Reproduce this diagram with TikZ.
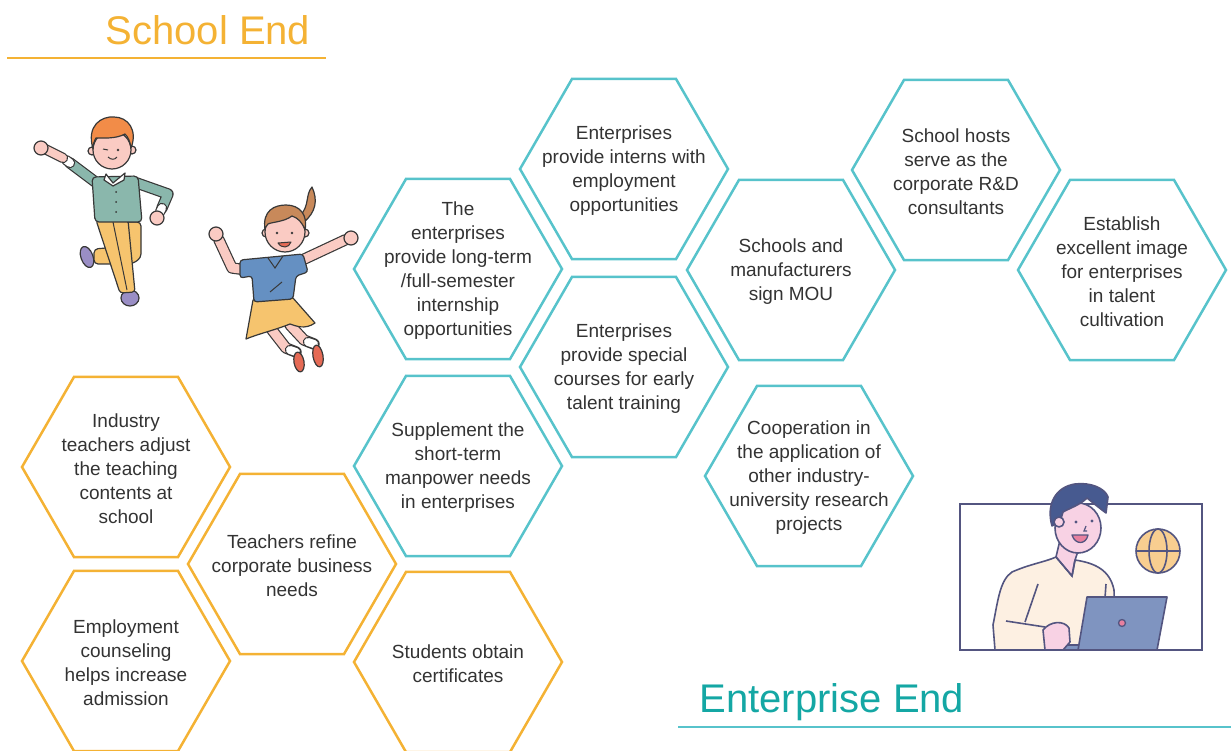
\documentclass[tikz,border=0pt]{standalone}
\usepackage{fontspec}
\setmainfont{Liberation Sans}
\usetikzlibrary{shapes.geometric}

\definecolor{orangeA}{HTML}{F4B234}
\definecolor{tealA}{HTML}{57C3CB}
\definecolor{titleteal}{HTML}{14A7A4}
\definecolor{txt}{HTML}{333333}
\definecolor{ink}{HTML}{383838}
\definecolor{skin}{HTML}{FACBC3}
\definecolor{boyshirt}{HTML}{8AB7AC}
\definecolor{pants}{HTML}{F6C46E}
\definecolor{boyshoe}{HTML}{9A8EC5}
\definecolor{boyhair}{HTML}{F28C48}
\definecolor{girlshirt}{HTML}{6590C2}
\definecolor{girlhair}{HTML}{C8895A}
\definecolor{girlshoe}{HTML}{E56A55}
\definecolor{maninkc}{HTML}{535580}
\definecolor{manhair}{HTML}{475A90}
\definecolor{manface}{HTML}{F8D2E4}
\definecolor{cream}{HTML}{FDF0E2}
\definecolor{laptop}{HTML}{7F94C0}
\definecolor{globe}{HTML}{F8CE90}
\definecolor{dot}{HTML}{E8809F}

\tikzset{
  hexbase/.style={regular polygon, regular polygon sides=6, minimum size=208pt,
    inner sep=0pt, line width=2.5pt, draw=#1},
  schoolhex/.style={hexbase=orangeA},
  enthex/.style={hexbase=tealA},
  hextext/.style={align=center, font=\fontsize{19}{24}\selectfont, text=txt, inner sep=0pt, yshift=-2pt},
  title/.style={anchor=base, font=\fontsize{40}{44}\selectfont},
  tube/.style 2 args={draw=#2, line width=1.2pt, double=#1, double distance=9pt,
    line cap=round, line join=round},
  part/.style={draw=ink, line width=1.2pt, line join=round, fill=#1},
  mpart/.style={draw=maninkc, line width=1.6pt, line join=round, fill=#1},
}

\begin{document}
\begin{tikzpicture}[x=1pt,y=-1pt]
\useasboundingbox (0,0) rectangle (1231,751);

% ---------- headings ----------
\node[title, text=orangeA] (schooltitle) at (208,45) {School End};
\draw[orangeA, line width=2.5pt] (7,58) -- (326,58);
\node[title, text=titleteal] (enttitle) at (832,712) {Enterprise End};
\draw[tealA, line width=2.5pt] (678,727) -- (1231,727);

% ---------- school-side hexagons ----------
\node[schoolhex, label={[hextext]center:{Industry\\teachers adjust\\the teaching\\contents at\\school}}] (s1) at (126,467) {};
\node[schoolhex, label={[hextext]center:{Teachers refine\\corporate business\\needs}}] (s2) at (292,564) {};
\node[schoolhex, label={[hextext]center:{Employment\\counseling\\helps increase\\admission}}] (s3) at (126,661) {};
\node[schoolhex, label={[hextext]center:{Students obtain\\certificates}}] (s4) at (458,662) {};

% ---------- enterprise-side hexagons ----------
\node[enthex, label={[hextext]center:{The\\enterprises\\provide long-term\\/full-semester\\internship\\opportunities}}] (e1) at (458,269) {};
\node[enthex, label={[hextext]center:{Supplement the\\short-term\\manpower needs\\in enterprises}}] (e2) at (458,466) {};
\node[enthex, label={[hextext]center:{Enterprises\\provide interns with\\employment\\opportunities}}] (e3) at (624,169) {};
\node[enthex, label={[hextext]center:{Enterprises\\provide special\\courses for early\\talent training}}] (e4) at (624,367) {};
\node[enthex, label={[hextext]center:{Schools and\\manufacturers\\sign MOU}}] (e5) at (791,270) {};
\node[enthex, label={[hextext]center:{Cooperation in\\the application of\\other industry-\\university research\\projects}}] (e6) at (809,476) {};
\node[enthex, label={[hextext]center:{School hosts\\serve as the\\corporate R\&D\\consultants}}] (e7) at (956,170) {};
\node[enthex, label={[hextext]center:{Establish\\excellent image\\for enterprises\\in talent\\cultivation}}] (e8) at (1122,270) {};

% ---------- jumping boy ----------
% back leg and shoe
\draw[part=boyshoe, rotate around={20:(87,257)}] (87,257) ellipse (6 and 11);
\draw[part=pants, rounded corners=4pt] (112,222) -- (141,222) -- (141,258) -- (132,264) -- (94,264) -- (94,249) -- (118,247) -- cycle;
% front leg and shoe
\draw[part=boyshoe] (130,298) ellipse (9 and 8);
\draw[part=pants, rounded corners=3pt] (96,220) -- (128,220) -- (135,292) -- (120,293) -- cycle;
\draw[ink, line width=1pt] (113,222) -- (127,290);
% arms
\draw[tube={boyshirt}{ink}] (98,184) -- (70,163);
\draw[tube={white}{ink}, double distance=8pt] (70,163) -- (66,160);
\draw[tube={skin}{ink}, double distance=8pt] (63,158) -- (45,149);
\draw[part=skin] (41,148) circle (7);
\draw[tube={boyshirt}{ink}] (134,182) -- (168,194) -- (162,208);
\draw[tube={white}{ink}, double distance=8pt] (162,208) -- (160,212);
\draw[part=skin] (157,218) circle (7);
% torso
\draw[part=boyshirt, rounded corners=4pt] (92,177) -- (138,176) -- (142,222) -- (95,222) -- cycle;
\draw[part=white] (106,174) -- (113,183) -- (125,173) -- (124,180) -- (113,186) -- (104,180) -- cycle;
\foreach \yy in {192,202,212} \fill[ink] (116,\yy) circle (1);
% head
\draw[part=skin] (92,151) circle (4);
\draw[part=skin] (132,150) circle (4);
\draw[part=skin] (112,150) circle (19);
\draw[part=boyhair] (93,149) .. controls (86,125) and (102,116) .. (114,117)
  .. controls (128,117) and (138,130) .. (131,148)
  .. controls (130,141) and (128,137) .. (125,134)
  .. controls (116,139) and (103,138) .. (96,138) .. controls (94,141) and (93,145) .. (93,149) -- cycle;
\draw[ink, line width=1pt] (103,149) -- (108,150);
\fill[ink] (118,150) circle (1.4);
\draw[ink, line width=1pt] (108,157) .. controls (111,160) and (115,160) .. (117,157);

% ---------- jumping girl ----------
% legs and shoes
\draw[tube={skin}{ink}] (272,330) -- (286,348) -- (296,352);
\draw[tube={white}{ink}, double distance=8pt] (290,350) -- (296,352);
\draw[part=girlshoe, rotate around={10:(299,362)}] (299,362) ellipse (5 and 10);
\draw[tube={skin}{ink}] (290,325) -- (304,340) -- (314,344);
\draw[tube={white}{ink}, double distance=8pt] (308,342) -- (314,344);
\draw[part=girlshoe, rotate around={10:(318,356)}] (318,356) ellipse (5 and 11);
% skirt
\draw[part=pants] (253,300) -- (293,298) -- (315,323) .. controls (305,330) and (296,326) .. (290,324)
  .. controls (275,330) and (258,334) .. (246,339) -- cycle;
% arms
\draw[tube={skin}{ink}] (247,270) -- (232,268) -- (219,240);
\draw[part=skin] (216,234) circle (7);
\draw[tube={skin}{ink}] (298,262) -- (345,240);
\draw[part=skin] (351,238) circle (7);
% shirt
\draw[part=girlshirt, rounded corners=3pt] (240,260) -- (303,254) -- (308,272) -- (296,276) -- (293,299) -- (254,302) -- (252,276) -- (240,278) -- cycle;
\draw[ink, line width=1pt] (268,258) -- (275,268) -- (283,256);
\draw[ink, line width=1pt] (270,292) -- (282,282);
% head
\draw[part=girlhair] (300,216) .. controls (310,205) and (305,195) .. (312,187)
  .. controls (318,200) and (316,212) .. (304,222) -- cycle;
\draw[part=skin] (266,233) circle (4);
\draw[part=skin] (305,233) circle (4);
\draw[part=skin] (285,232) circle (20);
\draw[part=girlhair] (265,230) .. controls (262,210) and (275,205) .. (286,205)
  .. controls (300,205) and (308,215) .. (305,230)
  .. controls (302,222) and (298,218) .. (292,216)
  .. controls (284,222) and (272,222) .. (268,224) .. controls (266,226) and (265,228) .. (265,230) -- cycle;
\fill[ink] (277,233) circle (1.4);
\fill[ink] (292,233) circle (1.4);
\draw[part=girlshoe, line width=1pt] (278,243) .. controls (282,249) and (289,248) .. (291,242) -- cycle;

% ---------- man at the laptop ----------
\draw[maninkc, line width=2pt, fill=white] (960,504) rectangle (1202,650);
% globe
\draw[mpart=globe] (1158,551) circle (22);
\draw[maninkc, line width=1.6pt] (1158,551) ellipse (9 and 22);
\draw[maninkc, line width=1.6pt] (1136,551) -- (1180,551);
% body
\draw[mpart=cream] (995,650) -- (993,625) .. controls (998,600) and (1000,580) .. (1012,572)
  .. controls (1030,564) and (1045,562) .. (1056,557) -- (1075,560)
  .. controls (1095,563) and (1110,570) .. (1114,590) -- (1116,650) -- cycle;
\draw[mpart=manface] (1056,557) -- (1060,540) -- (1080,545) -- (1075,560) -- (1072,576) -- cycle;
\draw[maninkc, line width=1.6pt] (1056,557) -- (1072,576) -- (1075,560);
\draw[maninkc, line width=1.6pt] (1038,584) -- (1025,622);
\draw[maninkc, line width=1.6pt] (1106,584) -- (1105,598);
\draw[maninkc, line width=1.6pt] (1006,621) -- (1045,627);
% head
\draw[mpart=manface] (1078,528) ellipse (23 and 25);
\draw[mpart=manhair] (1052,526) .. controls (1046,505) and (1055,487) .. (1075,484)
  .. controls (1090,482) and (1105,488) .. (1108,497) -- (1106,513)
  .. controls (1098,507) and (1092,502) .. (1087,498)
  .. controls (1080,505) and (1070,508) .. (1063,512) .. controls (1062,518) and (1058,523) .. (1052,526) -- cycle;
\draw[mpart=manface] (1059,522) circle (5);
\fill[maninkc] (1076,522) circle (1.6);
\fill[maninkc] (1092,521) circle (1.6);
\draw[maninkc, line width=1.2pt] (1086,526) -- (1084,531) -- (1087,531);
\draw[mpart=dot, line width=1.3pt] (1072,535) .. controls (1075,545) and (1086,545) .. (1088,535) -- cycle;
% laptop
\draw[mpart=laptop] (1050,645) -- (1090,645) -- (1090,650) -- (1050,650) -- cycle;
\draw[mpart=manface] (1045,650) -- (1043,630) .. controls (1050,621) and (1064,620) .. (1069,628) -- (1070,642) -- (1063,650) -- cycle;
\draw[mpart=laptop] (1087,597) -- (1167,597) -- (1157,650) -- (1078,650) -- cycle;
\draw[mpart=dot, line width=1.3pt] (1122,623) circle (3.5);
\draw[maninkc, line width=2pt] (960,650) -- (1202,650);
\end{tikzpicture}
\end{document}
